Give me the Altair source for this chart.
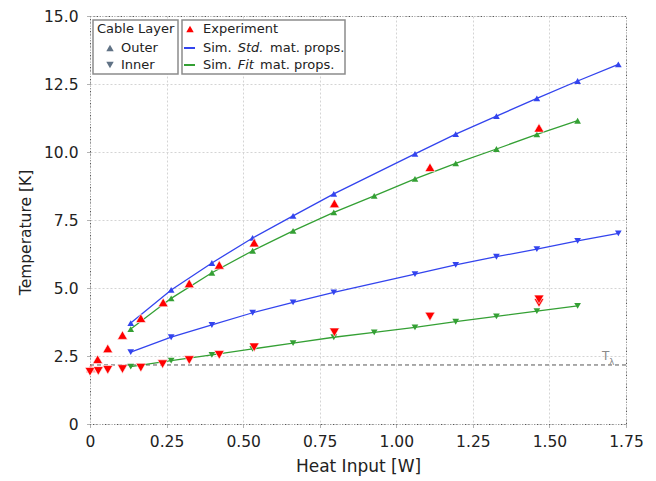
import altair as alt
import pandas as pd

# Simulated temperatures (heat input in W, temperature in K)
heat_std_outer = [0.133, 0.265, 0.398, 0.531, 0.663, 0.796, 1.061, 1.194, 1.327, 1.459, 1.592, 1.725]
temp_std_outer = [3.71, 4.93, 5.92, 6.84, 7.65, 8.46, 9.93, 10.66, 11.32, 11.97, 12.61, 13.22]

heat_std_inner = [0.133, 0.265, 0.398, 0.531, 0.663, 0.796, 1.061, 1.194, 1.327, 1.459, 1.592, 1.725]
temp_std_inner = [2.64, 3.19, 3.64, 4.09, 4.47, 4.84, 5.51, 5.85, 6.15, 6.43, 6.73, 7.01]

heat_fit_outer = [0.133, 0.265, 0.398, 0.531, 0.663, 0.796, 0.928, 1.061, 1.194, 1.327, 1.459, 1.592]
temp_fit_outer = [3.49, 4.62, 5.56, 6.37, 7.10, 7.78, 8.39, 9.01, 9.58, 10.11, 10.65, 11.15]

heat_fit_inner = [0.133, 0.265, 0.398, 0.531, 0.663, 0.796, 0.928, 1.061, 1.194, 1.327, 1.459, 1.592]
temp_fit_inner = [2.11, 2.33, 2.54, 2.76, 2.97, 3.19, 3.37, 3.55, 3.76, 3.96, 4.15, 4.34]

# Measured temperatures
heat_exp_outer = [0.025, 0.058, 0.106, 0.166, 0.239, 0.324, 0.422, 0.536, 0.798, 1.11, 1.466]
temp_exp_outer = [2.38, 2.78, 3.27, 3.89, 4.47, 5.17, 5.85, 6.67, 8.11, 9.44, 10.89]
heat_exp_outer_faint = [0.003]
temp_exp_outer_faint = [2.05]

heat_exp_inner = [0.0, 0.027, 0.058, 0.106, 0.166, 0.237, 0.324, 0.422, 0.536, 0.798, 1.11, 1.466, 1.466]
temp_exp_inner = [1.92, 1.95, 1.99, 2.02, 2.07, 2.20, 2.35, 2.54, 2.82, 3.37, 3.95, 4.45, 4.58]

t_lambda = 2.17

x_ticks = [0, 0.25, 0.5, 0.75, 1.0, 1.25, 1.5, 1.75]
y_ticks = [0, 2.5, 5.0, 7.5, 10.0, 12.5, 15.0]

BLUE_LINE = "#3344ee"
BLUE_MARK = "#0a0ab8"
GREEN_LINE = "#34a034"
GREEN_MARK = "#0a6a0a"
RED = "#ff0000"
FONT = "DejaVu Sans"


def frame(xs, ys, model, layer):
    return pd.DataFrame({"heat": xs, "temp": ys, "model": model, "layer": layer,
                         "curve": model + "-" + layer})


sim = pd.concat([
    frame(heat_std_outer, temp_std_outer, "std", "outer"),
    frame(heat_std_inner, temp_std_inner, "std", "inner"),
    frame(heat_fit_outer, temp_fit_outer, "fit", "outer"),
    frame(heat_fit_inner, temp_fit_inner, "fit", "inner"),
], ignore_index=True)

exp = pd.concat([
    frame(heat_exp_outer, temp_exp_outer, "exp", "outer"),
    frame(heat_exp_inner, temp_exp_inner, "exp", "inner"),
], ignore_index=True)
exp_faint = frame(heat_exp_outer_faint, temp_exp_outer_faint, "exp", "outer")

x_enc = alt.X("heat:Q", scale=alt.Scale(domain=[0, 1.75], nice=False, zero=False),
              axis=alt.Axis(values=x_ticks, title="Heat Input [W]",
                            labelExpr="datum.value == 0 ? '0' : format(datum.value, '.2f')",
                            labelPadding=6, titleFontSize=17,
                            titleX=268, titleY=42, titleBaseline="middle"))
y_enc = alt.Y("temp:Q", scale=alt.Scale(domain=[0, 15], nice=False, zero=False),
              axis=alt.Axis(values=y_ticks, title="Temperature [K]",
                            labelExpr="datum.value == 0 ? '0' : format(datum.value, '.1f')",
                            labelPadding=8, titleFontSize=15.5,
                            titleX=-65, titleY=216, titleAngle=-90, titleBaseline="middle"))

shape_scale = alt.Scale(domain=["outer", "inner"], range=["triangle-up", "triangle-down"])

lines = alt.Chart(sim).mark_line(strokeWidth=1.3).encode(
    x=x_enc, y=y_enc,
    color=alt.Color("model:N", scale=alt.Scale(domain=["std", "fit"], range=[BLUE_LINE, GREEN_LINE]),
                    legend=None),
    detail="curve:N",
)

sim_points = alt.Chart(sim).mark_point(filled=True, size=45, opacity=1).encode(
    x="heat:Q", y="temp:Q",
    shape=alt.Shape("layer:N", scale=shape_scale, legend=None),
    color=alt.Color("model:N", scale=alt.Scale(domain=["std", "fit"], range=[BLUE_MARK, GREEN_MARK]),
                    legend=None),
)

exp_points = alt.Chart(exp).mark_point(filled=True, size=100, opacity=1, fill=RED,
                                       stroke="white", strokeWidth=0.6).encode(
    x="heat:Q", y="temp:Q",
    shape=alt.Shape("layer:N", scale=shape_scale, legend=None),
)

exp_faint_points = alt.Chart(exp_faint).mark_point(filled=True, size=100, opacity=0.35, fill=RED,
                                                   shape="triangle-up").encode(
    x="heat:Q", y="temp:Q",
)

# Lambda-point reference line
lam = pd.DataFrame({"temp": [t_lambda], "heat": [1.684], "heat_sub": [1.703]})
lam_rule = alt.Chart(lam).mark_rule(strokeDash=[4, 3], color="#555555", strokeWidth=1).encode(
    y="temp:Q")
lam_t = alt.Chart(lam).mark_text(text="T", font=FONT, fontSize=12, color="#8a8a8a", dy=-9).encode(
    x="heat:Q", y="temp:Q")
lam_sub = alt.Chart(lam).mark_text(text="λ", font=FONT, fontSize=9, color="#8a8a8a", dy=-3).encode(
    x="heat_sub:Q", y="temp:Q")

# Hand-drawn legends (pixel positions inside the plot area)
boxes = pd.DataFrame({"x0": [3, 92], "x1": [88, 255], "y0": [4, 4], "y1": [58, 58]})
legend_boxes = alt.Chart(boxes).mark_rect(fill="white", stroke="#8c8c8c", strokeWidth=1.5).encode(
    x=alt.X("x0:Q", scale=None), x2="x1:Q",
    y=alt.Y("y0:Q", scale=None), y2="y1:Q",
)

leg_marks = pd.DataFrame({
    "px": [20, 20, 100],
    "py": [32, 49, 13],
    "shape": ["triangle-up", "triangle-down", "triangle-up"],
    "col": ["#607285", "#607285", RED],
})
legend_marks = alt.Chart(leg_marks).mark_point(filled=True, size=55, opacity=1).encode(
    x=alt.X("px:Q", scale=None), y=alt.Y("py:Q", scale=None),
    shape=alt.Shape("shape:N", scale=None), color=alt.Color("col:N", scale=None),
)

leg_lines = pd.DataFrame({"x0": [94, 94], "x1": [105, 105], "py": [32, 49], "col": [BLUE_LINE, GREEN_LINE]})
legend_lines = alt.Chart(leg_lines).mark_rule(strokeWidth=2).encode(
    x=alt.X("x0:Q", scale=None), x2="x1:Q", y=alt.Y("py:Q", scale=None),
    color=alt.Color("col:N", scale=None),
)

leg_text = pd.DataFrame({
    "px": [7, 31, 31, 113, 113, 180, 113, 170],
    "py": [13, 32, 49, 13, 32, 32, 49, 49],
    "label": ["Cable Layer", "Outer", "Inner", "Experiment", "Sim.", "mat. props.",
              "Sim.", "mat. props."],
})
leg_italic = pd.DataFrame({
    "px": [147.7, 147.7],
    "py": [32, 49],
    "label": ["Std.", "Fit"],
})
legend_text = alt.Chart(leg_text).mark_text(align="left", baseline="middle", font=FONT,
                                            fontSize=13, color="#222222").encode(
    x=alt.X("px:Q", scale=None), y=alt.Y("py:Q", scale=None), text="label:N",
)
legend_italic = alt.Chart(leg_italic).mark_text(align="left", baseline="middle", font=FONT,
                                                fontSize=13, fontStyle="italic",
                                                color="#222222").encode(
    x=alt.X("px:Q", scale=None), y=alt.Y("py:Q", scale=None), text="label:N",
)

chart = alt.layer(
    lam_rule, lines, sim_points, exp_faint_points, exp_points, lam_t, lam_sub,
    legend_boxes, legend_lines, legend_marks, legend_text, legend_italic,
).properties(
    width=536, height=408,
    autosize=alt.AutoSizeParams(type="none"),
    padding={"left": 90, "top": 16, "right": 30, "bottom": 57},
).configure(
    font=FONT,
).configure_view(
    stroke="#555555", strokeDash=[1.5, 1.5], strokeWidth=1,
).configure_axis(
    domain=False, labelFlush=False,
    grid=True, gridColor="#d4d4d4", gridDash=[2, 2], gridWidth=1,
    ticks=True, tickSize=4, tickColor="#666666", tickDash=[1, 1],
    labelFont=FONT, labelFontSize=15.5, labelColor="#222222",
    titleFont=FONT, titleFontWeight="normal", titleColor="#222222",
)

chart.save("out.html", embed_options={"renderer": "svg", "actions": False})
